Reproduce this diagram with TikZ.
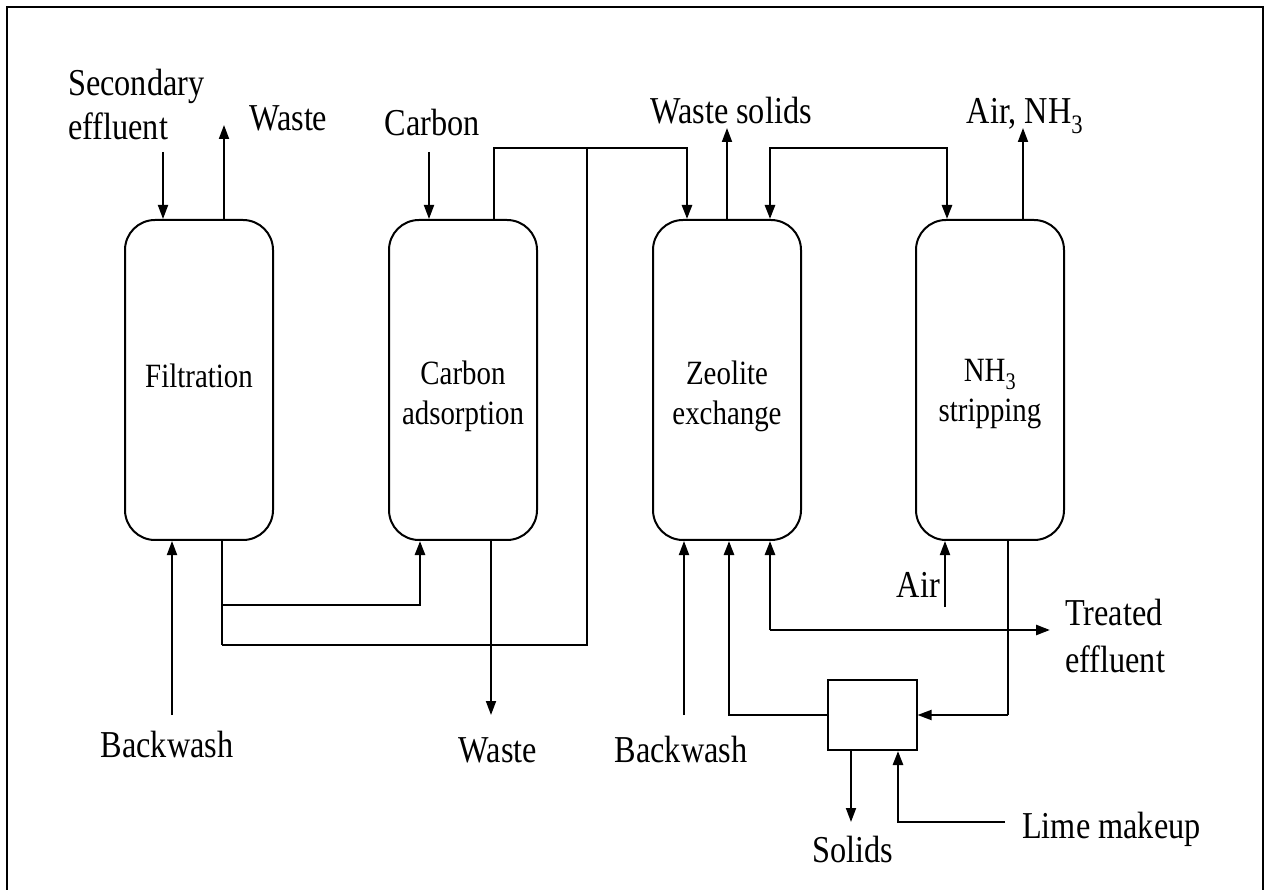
\documentclass[tikz,border=0pt]{standalone}
\usepackage{fontspec}
\setmainfont{Liberation Serif}[FakeStretch=0.85]
\usetikzlibrary{arrows.meta, positioning}

\begin{document}
\begin{tikzpicture}[x=1pt, y=-1pt,
    flow/.style={line width=1.8pt, -{Triangle[length=14pt, width=10pt]}},
    pipe/.style={line width=1.8pt},
    column/.style={draw, line width=2pt, rounded corners=30pt, minimum width=148pt,
                minimum height=320pt},
    inlbl/.style={font=\fontsize{34}{40}\selectfont, inner sep=0pt, align=center, anchor=base},
    lbl/.style={font=\fontsize{38}{44}\selectfont, inner sep=0pt, align=center}
]
\useasboundingbox (0,0) rectangle (1270,890);
\draw[line width=2pt] (7,890) -- (7,7) -- (1263,7) -- (1263,890);

\node[column] (filt)  at (199,380) {};
\node[column] (cads)  at (463,380) {};
\node[column] (zeol)  at (727,380) {};
\node[column] (strip) at (990,380) {};
\node[draw, line width=2pt, minimum width=89pt, minimum height=70pt] (mix) at (872,715) {};

% column texts
\node[inlbl] (filtt)  at ([yshift=-8pt]filt.center)   {Filtration};
\node[inlbl] (cadst)  at ([yshift=-45pt]cads.center)  {Carbon\\adsorption};
\node[inlbl] (zeolt)  at ([yshift=-45pt]zeol.center)  {Zeolite\\exchange};
\node[inlbl] (stript) at ([yshift=-42pt]strip.center) {NH\textsubscript{3}\\stripping};

% labels
\node[lbl, align=left, anchor=base west] (secl) at (68,140) {Secondary\\effluent};
\node[lbl, anchor=base west] (wastel) at (249,131) {Waste};
\node[lbl, anchor=base] (carbl) at (432,136) {Carbon};
\node[lbl, anchor=base] (solidl) at (731,124) {Waste solids};
\node[lbl, anchor=base] (airnl) at (1025,124) {Air, NH\textsubscript{3}};
\node[lbl, anchor=base] (bw1) at (167,757) {Backwash};
\node[lbl, anchor=base] (waste2) at (498,762) {Waste};
\node[lbl, anchor=base] (bw2) at (681,762) {Backwash};
\node[lbl, anchor=base east] (airl) at (940,597) {Air};
\node[lbl, align=left, anchor=base west, font=\fontsize{38}{47}\selectfont] (treatl) at (1065,672) {Treated\\effluent};
\node[lbl, anchor=base] (solids) at (853,862) {Solids};
\node[lbl, anchor=base west] (limel) at (1022,838) {Lime makeup};

% free ends and junctions
\coordinate (secin)  at (163,152);
\coordinate (wout)   at (224,125);
\coordinate (cin)    at (429,152);
\coordinate (wsout)  at (727,128);
\coordinate (anout)  at (1023,128);
\coordinate (bwin1)  at (172,715);
\coordinate (fsplit) at (222,605);
\coordinate (fjoin)  at (222,645);
\coordinate (ctop)   at (587,148);
\coordinate (cwout)  at (491,715);
\coordinate (bwin2)  at (684,715);
\coordinate (teff)   at (770,630);
\coordinate (teout)  at (1050,630);
\coordinate (airin)  at (945,607);
\coordinate (sdrop)  at (1008,715);
\coordinate (solout) at (851,822);
\coordinate (limein) at (1005,822);

% top streams
\draw[flow] (secin) -- (secin |- filt.north);
\draw[flow] (wout |- filt.north) -- (wout);
\draw[flow] (cin) -- (cin |- cads.north);
\draw[flow, line width=2.6pt] (494,0 |- cads.north) |- (687,148) -- (687,0 |- zeol.north);
\draw[pipe, line width=2.6pt] (ctop) |- (fjoin);
\draw[flow] (wsout |- zeol.north) -- (wsout);
\draw[line width=2.6pt, {Triangle[length=14pt, width=10pt]}-{Triangle[length=14pt, width=10pt]}]
    (770,0 |- zeol.north) |- (947,148) -- (947,0 |- strip.north);
\draw[flow] (anout |- strip.north) -- (anout);

% bottom streams
\draw[flow] (bwin1) -- (bwin1 |- filt.south);
\draw[pipe, line width=2.6pt] (fjoin |- filt.south) -- (fjoin);
\draw[flow, line width=2.6pt] (fsplit) -| (420,0 |- cads.south);
\draw[flow] (cwout |- cads.south) -- (cwout);
\draw[flow] (bwin2) -- (bwin2 |- zeol.south);
\draw[flow, line width=2.6pt] (mix.west) -| (729,0 |- zeol.south);
\draw[flow, line width=2.6pt] (teff) -- (teff |- zeol.south);
\draw[flow, line width=2.6pt] (teff) -- (teout);
\draw[flow] (airin) -- (airin |- strip.south);
\draw[pipe, line width=2.6pt] (sdrop |- strip.south) -- (sdrop);
\draw[flow] (sdrop) -- (mix.east);
\draw[flow] (solout |- mix.south) -- (solout);
\draw[flow, line width=2.6pt] (limein) -| (898,0 |- mix.south);
\end{tikzpicture}
\end{document}
